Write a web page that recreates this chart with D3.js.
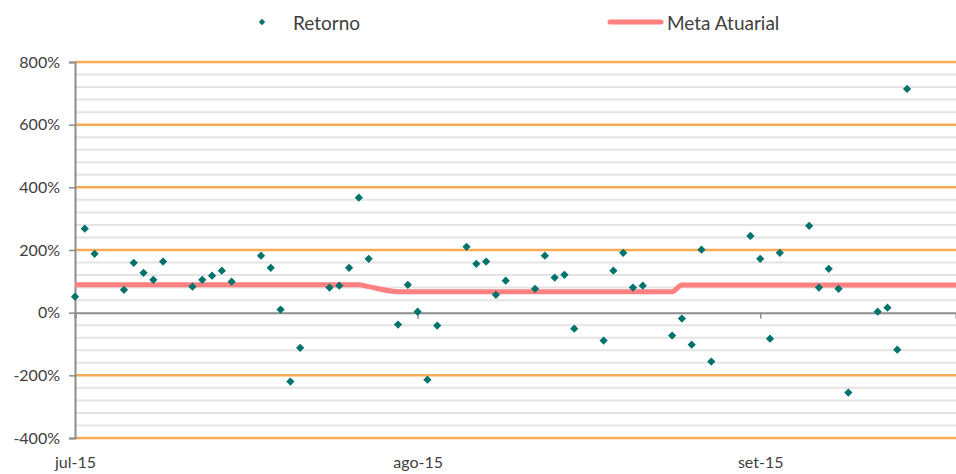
<!DOCTYPE html>
<html>
<head>
<meta charset="utf-8">
<script src="https://cdn.jsdelivr.net/npm/d3@7"></script>
<style>
  body { margin: 0; background: #fff; }
  text { font-family: Lato, "Open Sans", sans-serif; fill: #404040; }
</style>
</head>
<body>
<div id="canvas"></div>
<script>
"use strict";

/* Data */
let dias = [
  "2015-07-01", "2015-07-02", "2015-07-03", "2015-07-06", "2015-07-07", "2015-07-08", "2015-07-09", "2015-07-10",
  "2015-07-13", "2015-07-14", "2015-07-15", "2015-07-16", "2015-07-17", "2015-07-20", "2015-07-21", "2015-07-22",
  "2015-07-23", "2015-07-24", "2015-07-27", "2015-07-28", "2015-07-29", "2015-07-30", "2015-07-31",
  "2015-08-03", "2015-08-04", "2015-08-05", "2015-08-06", "2015-08-07", "2015-08-10", "2015-08-11", "2015-08-12",
  "2015-08-13", "2015-08-14", "2015-08-17", "2015-08-18", "2015-08-19", "2015-08-20", "2015-08-21", "2015-08-24",
  "2015-08-25", "2015-08-26", "2015-08-27", "2015-08-28", "2015-08-31",
  "2015-09-01", "2015-09-02", "2015-09-03", "2015-09-04", "2015-09-08", "2015-09-09", "2015-09-10", "2015-09-11",
  "2015-09-14", "2015-09-15", "2015-09-16", "2015-09-17", "2015-09-18", "2015-09-21", "2015-09-22", "2015-09-23",
  "2015-09-24", "2015-09-25", "2015-09-28", "2015-09-29"
];

// null = no return published yet for that day
let retorno = [
  0.51, 2.68, 1.88, 0.73, 1.59, 1.27, 1.05, 1.63,
  0.83, 1.05, 1.18, 1.34, 0.99, 1.82, 1.43, 0.10,
  -2.20, -1.12, 0.80, 0.86, 1.43, 3.67, 1.72,
  -0.38, 0.89, 0.03, -2.14, -0.41, 2.10, 1.56, 1.63,
  0.57, 1.02, 0.76, 1.82, 1.12, 1.21, -0.51, -0.89,
  1.34, 1.91, 0.80, 0.86, -0.73,
  -0.19, -1.02, 2.01, -1.56, 2.45, 1.72, -0.83, 1.91,
  2.77, 0.80, 1.40, 0.76, -2.55, 0.03, 0.16, -1.18,
  7.14, null, null, null
];

let meta = [
  0.89, 0.89, 0.89, 0.89, 0.89, 0.89, 0.89, 0.89,
  0.89, 0.89, 0.89, 0.89, 0.89, 0.89, 0.89, 0.89,
  0.89, 0.89, 0.89, 0.89, 0.89, 0.89, 0.83,
  0.67, 0.67, 0.67, 0.67, 0.67, 0.67, 0.67, 0.67,
  0.67, 0.67, 0.67, 0.67, 0.67, 0.67, 0.67, 0.67,
  0.67, 0.67, 0.67, 0.67, 0.67,
  0.88, 0.88, 0.88, 0.88, 0.88, 0.88, 0.88, 0.88,
  0.88, 0.88, 0.88, 0.88, 0.88, 0.88, 0.88, 0.88,
  0.88, 0.88, 0.88, 0.88
];

let yTicks = [-4, -2, 0, 2, 4, 6, 8];
let xTickDates = ["2015-07-01", "2015-08-05", "2015-09-09"];
let xTickLabels = ["jul-15", "ago-15", "set-15"];
let seriesNames = ["Retorno", "Meta Atuarial"];

/* SVG setup */
let svgWidth = 956;
let svgHeight = 474;
let plotLeft = 75, plotRight = 956, plotTop = 62, plotBottom = 438;

let svg = d3.select("#canvas")
  .append("svg")
  .attr("width", svgWidth)
  .attr("height", svgHeight);

let parse = d3.timeParse("%Y-%m-%d");
let rows = dias.map(function (d, i) {
  return { date: parse(d), r: retorno[i], m: meta[i] };
});

/* Scales */
let xScale = d3.scaleTime()
  .domain([parse("2015-07-01"), parse("2015-09-29")])
  .range([plotLeft, plotRight]);
let yScale = d3.scaleLinear().domain([-4, 8]).range([plotBottom, plotTop]);

/* Minor gridlines (every 40%) */
let minor = d3.range(-4, 8.001, 0.4).filter(function (v) {
  return Math.abs(v / 2 - Math.round(v / 2)) > 0.01;
});
svg.append("g")
  .selectAll("line")
  .data(minor)
  .join("line")
  .attr("x1", plotLeft)
  .attr("x2", plotRight)
  .attr("y1", function (d) { return yScale(d); })
  .attr("y2", function (d) { return yScale(d); })
  .attr("stroke", "#e4e4e4")
  .attr("stroke-width", 2);

/* Major gridlines */
svg.append("g")
  .selectAll("line")
  .data(yTicks.filter(function (d) { return d !== 0; }))
  .join("line")
  .attr("x1", plotLeft)
  .attr("x2", plotRight)
  .attr("y1", function (d) { return yScale(d); })
  .attr("y2", function (d) { return yScale(d); })
  .attr("stroke", "#f9ab55")
  .attr("stroke-width", 2.5);

/* Y axis */
let yAxis = svg.append("g")
  .attr("transform", "translate(" + plotLeft + ",0)")
  .call(d3.axisLeft(yScale)
    .tickValues(yTicks)
    .tickSize(6)
    .tickPadding(9)
    .tickFormat(function (d) { return Math.round(d * 100) + "%"; }));
yAxis.select(".domain").attr("stroke", "#8c8c8c").attr("stroke-width", 2);
yAxis.selectAll(".tick line").attr("stroke", "#8c8c8c").attr("stroke-width", 1.5);
yAxis.selectAll("text").style("font-size", "16px").attr("fill", "#404040");

/* X axis on the zero line (ticks only) */
let xTicks = xTickDates.map(parse);
let xAxis = svg.append("g")
  .attr("transform", "translate(0," + yScale(0) + ")")
  .call(d3.axisBottom(xScale).tickValues(xTicks).tickSize(6).tickFormat(""));
xAxis.select(".domain").attr("stroke", "#8c8c8c").attr("stroke-width", 2);
xAxis.selectAll(".tick line").attr("stroke", "#8c8c8c").attr("stroke-width", 1.5);

/* X labels at the bottom */
let xLab = svg.append("g")
  .attr("transform", "translate(0," + plotBottom + ")")
  .call(d3.axisBottom(xScale).tickValues(xTicks).tickSize(0).tickPadding(19)
    .tickFormat(function (d, i) { return xTickLabels[i]; }));
xLab.select(".domain").remove();
xLab.selectAll("text").style("font-size", "16px").attr("fill", "#404040");

/* Meta line */
let line = d3.line()
  .x(function (d) { return xScale(d.date); })
  .y(function (d) { return yScale(d.m); })
  .curve(d3.curveMonotoneX);
svg.append("path")
  .datum(rows)
  .attr("d", line)
  .attr("fill", "none")
  .attr("stroke", "#ff8080")
  .attr("stroke-width", 5);

/* Retorno points */
let diamond = d3.symbol().type(d3.symbolSquare).size(34);
svg.append("g")
  .selectAll("path")
  .data(rows.filter(function (d) { return d.r !== null; }))
  .join("path")
  .attr("transform", function (d) {
    return "translate(" + xScale(d.date) + "," + yScale(d.r) + ") rotate(45)";
  })
  .attr("d", diamond)
  .attr("fill", "#00736c");

/* Legend */
svg.append("path")
  .attr("transform", "translate(262,22) rotate(45)")
  .attr("d", d3.symbol().type(d3.symbolSquare).size(20))
  .attr("fill", "#00736c");
svg.append("text")
  .attr("x", 293)
  .attr("y", 30)
  .style("font-size", "19px")
  .text(seriesNames[0]);

svg.append("line")
  .attr("x1", 610)
  .attr("x2", 661)
  .attr("y1", 22)
  .attr("y2", 22)
  .attr("stroke", "#ff8080")
  .attr("stroke-width", 5)
  .attr("stroke-linecap", "round");
svg.append("text")
  .attr("x", 667)
  .attr("y", 30)
  .style("font-size", "19px")
  .text(seriesNames[1]);
</script>
</body>
</html>
